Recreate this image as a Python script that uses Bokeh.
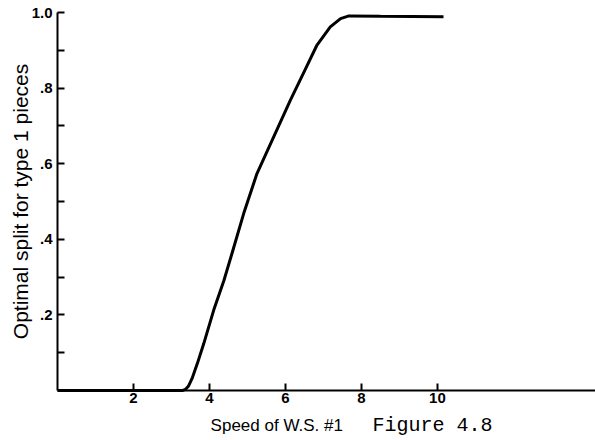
from bokeh.plotting import figure
from bokeh.models import FixedTicker, Label
from bokeh.embed import file_html
from bokeh.resources import INLINE

# Data
speed = [0, 3.3, 3.37, 3.45, 3.54, 3.68, 3.85, 4.11, 4.38, 4.6, 4.9, 5.25,
         5.69, 6.13, 6.49, 6.83, 7.18, 7.45, 7.67, 8.5, 10.16]
split = [0, 0, 0.003, 0.012, 0.031, 0.071, 0.124, 0.212, 0.291, 0.365, 0.468,
         0.574, 0.671, 0.768, 0.843, 0.914, 0.962, 0.984, 0.991, 0.99, 0.989]

x_ticks = [2, 4, 6, 8, 10]
y_ticks = [0.1, 0.2, 0.3, 0.4, 0.5, 0.6, 0.7, 0.8, 0.9, 1.0]
y_tick_labels = ["", ".2", "", ".4", "", ".6", "", ".8", "", "1.0"]

x_label = "Speed of W.S. #1"
fig_label = "Figure 4.8"
y_label = "Optimal split for type 1 pieces"

p = figure(width=595, height=440, output_backend="svg", toolbar_location=None,
           x_range=(-1.5, 14.16), y_range=(-0.1325, 1.0318),
           min_border_left=0, min_border_right=0, min_border_top=0,
           min_border_bottom=0)
p.outline_line_color = None
p.grid.visible = False
p.background_fill_color = "white"
p.border_fill_color = "white"

p.line(speed, split, line_width=3, line_color="black")

for ax in (p.xaxis[0], p.yaxis[0]):
    ax.fixed_location = 0
    ax.axis_line_width = 2
    ax.axis_line_color = "black"
    ax.major_tick_in = 7
    ax.major_tick_out = 0
    ax.major_tick_line_width = 2
    ax.minor_tick_line_color = None
    ax.major_label_text_font = "Liberation Sans"
    ax.major_label_text_font_size = "15px"
    ax.major_label_text_font_style = "bold"
    ax.major_label_text_color = "black"

p.xaxis.bounds = (0, 14.16)
p.yaxis.bounds = (0, 1.0)
p.xaxis.ticker = FixedTicker(ticks=x_ticks)
p.xaxis.major_label_standoff = 3
p.yaxis.ticker = FixedTicker(ticks=y_ticks)
p.yaxis.major_label_overrides = {t: l for t, l in zip(y_ticks, y_tick_labels)}
p.yaxis.major_label_standoff = 5

p.add_layout(Label(x=-0.98, y=0.5, text=y_label, angle=90, angle_units="deg",
                   text_font="Liberation Sans", text_font_size="21px",
                   text_align="center", text_baseline="middle",
                   text_color="black"))
p.add_layout(Label(x=4.03, y=-0.093, text=x_label, text_font="Liberation Sans",
                   text_font_size="17px", text_baseline="middle",
                   text_color="black"))
p.add_layout(Label(x=8.29, y=-0.093, text=fig_label, text_font="Liberation Mono",
                   text_font_size="20px", text_baseline="middle",
                   text_color="black"))

open("out.html", "w").write(file_html(p, INLINE))
